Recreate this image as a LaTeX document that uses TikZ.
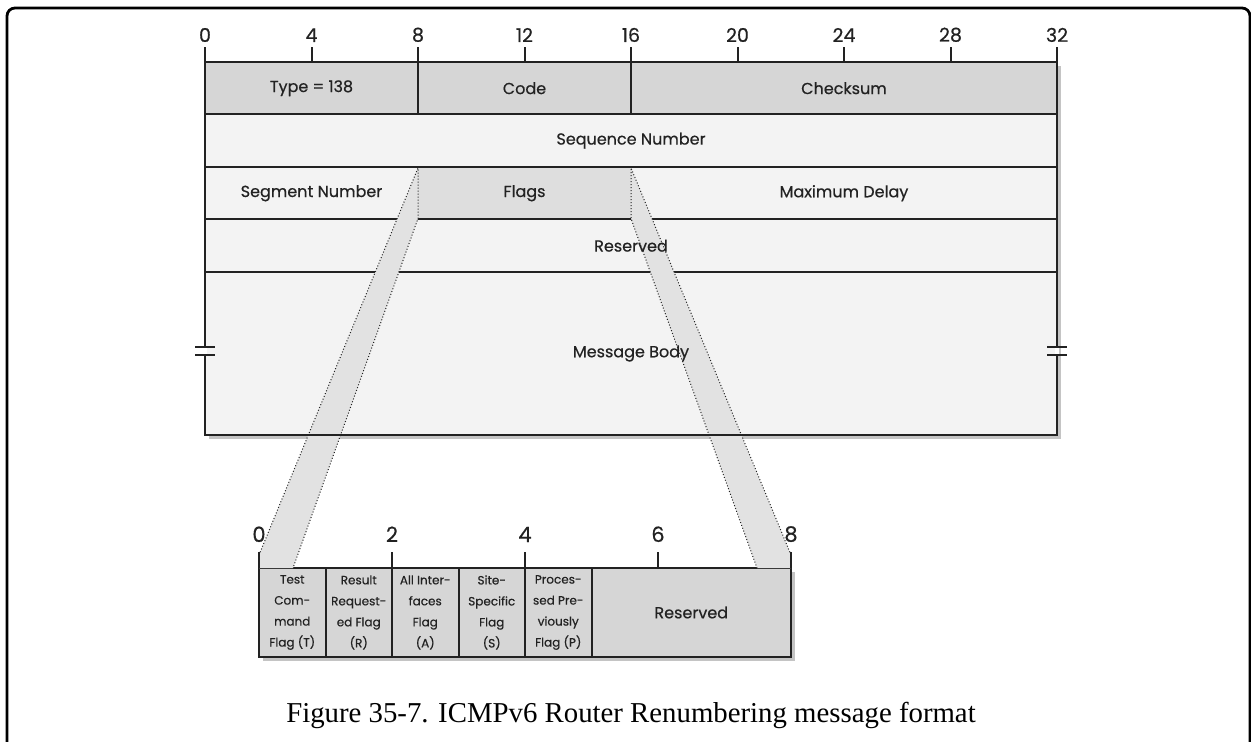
\documentclass[tikz,border=0pt]{standalone}
\usepackage{fontspec}
\setmainfont{Liberation Serif}
\newfontfamily\geofont[FakeBold=0.5]{Poppins}
\usepackage{xcolor}
\usetikzlibrary{positioning,calc,backgrounds}
\definecolor{ink}{HTML}{222222}
\definecolor{hdrgray}{HTML}{D6D6D6}
\definecolor{rowgray}{HTML}{F3F3F3}
\definecolor{flaggray}{HTML}{DEDEDE}
\definecolor{bandgray}{HTML}{E2E2E2}
\definecolor{shadowgray}{HTML}{C4C4C4}

\begin{document}
\begin{tikzpicture}[
 x=0.5pt,y=-0.5pt,
 every node/.style={font=\geofont\fontsize{8}{10}\selectfont,text=ink,inner sep=0pt,outer sep=0pt},
 row/.style={draw=ink,line width=1pt,minimum width=426pt,minimum height=26.25pt,anchor=north west},
 field/.style={draw=ink,line width=1pt,fill=hdrgray,minimum height=44.5pt,minimum width=33.25pt,align=center,font=\geofont\fontsize{6}{10.5}\selectfont},
 rule/.style={draw=ink,line width=1pt},
 outer/.style={draw=ink,line width=1.3pt},
 bandline/.style={draw=ink,line width=0.5pt,densely dotted},
 tick/.style={draw=ink,line width=1pt}
]
\useasboundingbox (0,0) rectangle (1251,742);
% page frame, cut at the right and bottom
\draw[line width=1.4pt,rounded corners=4pt] (7,770) -- (7,8) -- (1250,8) -- (1250,770);

% main message
\node[row,fill=hdrgray] (r1) at (205,62) {};
\node[row,fill=rowgray,below=0pt of r1] (r2) {};
\node[row,fill=rowgray,below=0pt of r2] (r3) {};
\node[row,fill=rowgray,below=0pt of r3] (r4) {};
\node[row,fill=rowgray,below=0pt of r4,minimum height=81.5pt] (r5) {};
\node[fill=flaggray,minimum width=106.5pt,minimum height=25.25pt] (flags) at ($(r3.center)+(-106.5,0)$) {};
\draw[rule] ($(r1.north west)+(213,0)$) -- ($(r1.south west)+(213,0)$);
\draw[rule] ($(r1.north west)+(426,0)$) -- ($(r1.south west)+(426,0)$);

% flags field, expanded
\node[field,anchor=north west] (fT) at (259,568) {Test\\Com-\\mand\\Flag (T)};
\node[field,right=0pt of fT] (fR) {Result\\Request-\\ed Flag\\(R)};
\node[field,right=0pt of fR] (fA) {All Inter-\\faces\\Flag\\(A)};
\node[field,right=0pt of fA] (fS) {Site-\\Specific\\Flag\\(S)};
\node[field,right=0pt of fS] (fP) {Proces-\\sed Pre-\\viously\\Flag (P)};
\node[field,right=0pt of fP,minimum width=99.75pt,font=\geofont\fontsize{8}{10}\selectfont] (fX) {Reserved};

\begin{scope}[on background layer]
\fill[shadowgray] ($(r1.north west)+(4,4)$) rectangle ($(r5.south east)+(4,4)$);
\fill[shadowgray] ($(fT.north west)+(4,4)$) rectangle ($(fX.south east)+(4,4)$);
\end{scope}

% bands from Flags to the expanded field
\coordinate (lowL) at ($(fT.north west)+(0,-13)$);
\coordinate (lowR) at ($(fX.north east)+(0,-13)$);
\fill[bandgray] (flags.north west) -- (lowL) -- (fT.north west) -- ($(fT.north west)+(34,0)$) -- (flags.south west) -- cycle;
\fill[bandgray] (flags.north east) -- (lowR) -- (fX.north east) -- ($(fX.north east)+(-34,0)$) -- (flags.south east) -- cycle;
\draw[bandline] (lowL) -- (flags.north west) -- (flags.south west) -- ($(fT.north west)+(34,0)$);
\draw[bandline] (lowR) -- (flags.north east) -- (flags.south east) -- ($(fX.north east)+(-34,0)$);
\draw[outer] (r1.north west) rectangle (r5.south east);

% break marks
\foreach \s in {r5.west,r5.east}{
  \fill[white] ($(\s)+(-2,-6.5)$) rectangle ($(\s)+(2,1.5)$);
  \draw[rule] ($(\s)+(-10,-6.5)$) -- ++(20,0) ($(\s)+(-10,1.5)$) -- ++(20,0);
}

% labels
\node (lType) at ($(r1.west)!0.125!(r1.east)$) {Type = 138};
\node (lCode) at ($(r1.west)!0.375!(r1.east)$) {Code};
\node (lSum) at ($(r1.west)!0.75!(r1.east)$) {Checksum};
\node (lSeq) at (r2) {Sequence Number};
\node (lSeg) at ($(r3.west)!0.125!(r3.east)$) {Segment Number};
\node (lFlags) at (flags) {Flags};
\node (lDelay) at ($(r3.west)!0.75!(r3.east)$) {Maximum Delay};
\node (lRes) at (r4) {Reserved};
\node (lBody) at (r5) {Message Body};

% bit scales
\foreach \b in {0,4,...,32}
  \draw[tick] ($(r1.north west)+(\b*26.625,0)$) -- ++(0,-15) node[above=2.5pt,font=\geofont\fontsize{9.5}{10}\selectfont]{\b};
\foreach \b in {0,2,...,8}
  \draw[tick] ($(fT.north west)+(\b*66.5,0)$) -- ++(0,-16) node[above=5pt,font=\geofont\fontsize{10.5}{12}\selectfont]{\b};

\node[font=\rmfamily\fontsize{14.4}{16}\selectfont,text=black] (caption) at (631,715) {Figure 35-7. ICMPv6 Router Renumbering message format};
\end{tikzpicture}
\end{document}
